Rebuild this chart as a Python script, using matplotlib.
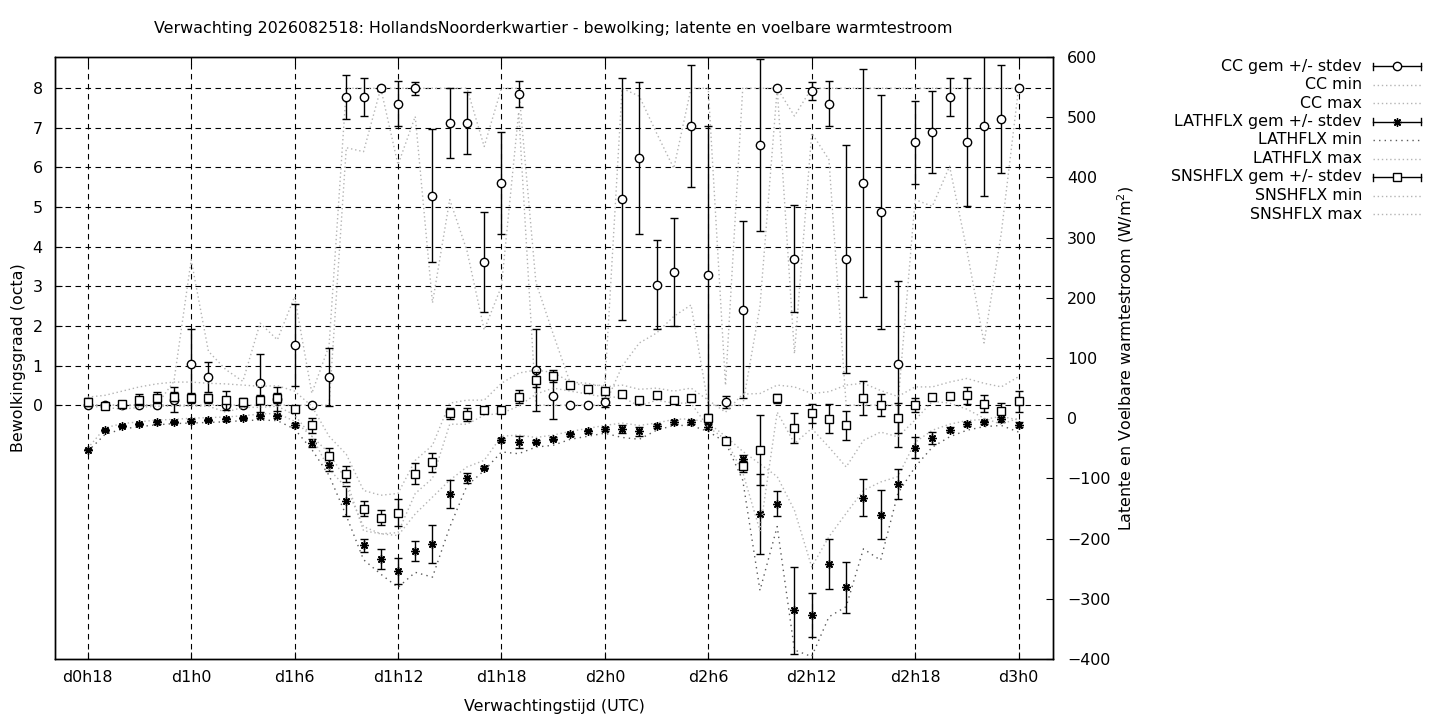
import numpy as np
from matplotlib import pyplot as plt
from matplotlib.lines import Line2D

# uren vanaf d0h18
hours = list(range(55))
tick_hours = [0, 6, 12, 18, 24, 30, 36, 42, 48, 54]
tick_labels = ['d0h18', 'd1h0', 'd1h6', 'd1h12', 'd1h18',
               'd2h0', 'd2h6', 'd2h12', 'd2h18', 'd3h0']

# bewolking (octa)
cc_mean = [0, 0, 0, 0, 0, 0.14, 1.04, 0.71, 0, 0, 0.56, 0.15, 1.52, 0,
           0.71, 7.78, 7.78, 8.0, 7.61, 8.0, 5.29, 7.12, 7.12, 3.61, 5.61, 7.86, 0.89, 0.24,
           0, 0, 0.07, 5.21, 6.24, 3.04, 3.36, 7.05, 3.29, 0.09, 2.41, 6.57, 8.0, 3.7,
           7.94, 7.61, 3.7, 5.61, 4.87, 1.04, 6.64, 6.9, 7.78, 6.64, 7.05, 7.23, 8.0]
cc_sd = [0, 0, 0, 0, 0, 0.32, 0.88, 0.39, 0, 0, 0.73, 0.31, 1.04, 0,
         0.72, 0.56, 0.47, 0.06, 0.57, 0.16, 1.68, 0.88, 0.79, 1.27, 1.28, 0.32, 1.04, 0.6,
         0, 0, 0.12, 3.05, 1.92, 1.12, 1.36, 1.54, 3.75, 0.15, 2.24, 2.18, 0, 1.35,
         0.23, 0.57, 2.88, 2.88, 2.96, 2.1, 1.05, 1.03, 0.48, 1.61, 1.77, 1.37, 0]
cc_min = [0, 0, 0, 0, 0, 0, 0, 0, 0, 0, 0, 0, 0, 0,
          0, 6.5, 6.4, 8.0, 6.07, 7.29, 2.58, 5.19, 3.9, 1.9, 3.0, 7.4, 0, 0,
          0, 0, 0, 0.98, 1.57, 1.82, 2.24, 2.53, 0, 0, 0, 2.5, 8.0, 1.3,
          6.87, 6.2, 0, 0, 0, 0, 5.19, 5.02, 6.03, 3.92, 1.57, 4.34, 8.0]
cc_max = [0, 0, 0, 0, 0, 0.6, 3.67, 1.36, 0.9, 0.6, 2.07, 1.65, 2.74, 0.3,
          1.5, 8, 8, 8, 8, 8, 8, 8, 8, 6.53, 8, 8, 3.1, 1.8,
          0.55, 0.5, 0.5, 8, 7.8, 6.87, 5.98, 8, 8, 0.5, 8, 8, 8, 7.3,
          8, 8, 8, 8, 8, 8, 8, 8, 8, 8, 8, 8, 8]

# latente warmtestroom (W/m2)
la_mean = [-52, -20, -13, -10, -7, -6, -4, -3, -2, 0, 3, 3, -11, -41,
           -77, -137, -211, -234, -254, -221, -209, -126, -99, -82, -36, -39, -39, -34,
           -27, -22, -18, -18, -22, -13, -6, -6, -14, -37, -67, -159, -142, -319,
           -327, -242, -281, -132, -160, -109, -49, -33, -19, -10, -7, -2, -11]
la_sd = [1, 2, 2, 2, 2, 2, 2, 2, 2, 2, 3, 3, 3, 7,
         10, 25, 11, 17, 22, 17, 32, 23, 8, 3, 3, 10, 3, 3,
         2, 2, 3, 7, 7, 3, 3, 3, 4, 4, 6, 67, 21, 72,
         37, 41, 42, 31, 41, 25, 17, 10, 4, 3, 3, 4, 4]
la_min = [-55, -27, -18, -14, -11, -9, -8, -7, -6, -4, -3, -4, -18, -52,
          -95, -162, -235, -259, -281, -256, -264, -181, -112, -87, -56, -59, -48, -45,
          -35, -30, -25, -32, -35, -20, -12, -12, -22, -40, -103, -286, -180, -385,
          -396, -330, -313, -217, -236, -125, -81, -48, -31, -20, -14, -12, -23]
la_max = [-50, -16, -9, -6, -3, -2, 0, 1, 2, 4, 7, 8, -5, -30,
          -58, -103, -187, -192, -195, -159, -131, -103, -81, -70, -30, -28, -32, -28,
          -22, -17, -12, -8, -12, -8, -2, -1, -8, -30, -55, -76, -97, -153,
          -247, -197, -158, -120, -106, -97, -40, -20, -10, -4, -2, 3, -3]

# voelbare warmtestroom (W/m2)
sn_mean = [27, 21, 23, 31, 34, 36, 34, 33, 30, 27, 31, 34, 16, -12,
           -63, -93, -150, -165, -157, -92, -73, 8, 6, 13, 14, 36, 64, 70,
           55, 48, 45, 41, 30, 38, 31, 34, 1, -38, -80, -53, 33, -16,
           8, -1, -12, 33, 22, 1, 22, 36, 37, 38, 24, 12, 28]
sn_sd = [6, 2, 6, 9, 9, 8, 8, 8, 16, 6, 8, 8, 3, 12,
         14, 13, 12, 12, 22, 18, 16, 9, 11, 3, 3, 11, 12, 10,
         3, 3, 5, 3, 6, 3, 3, 3, 6, 5, 9, 58, 8, 25,
         16, 24, 24, 28, 19, 25, 12, 3, 5, 14, 14, 14, 17]
sn_min = [20, 18, 15, 18, 20, 20, 20, 20, 10, 18, 18, 20, 5, -30,
          -85, -115, -180, -192, -190, -125, -100, -10, -10, 5, 8, 20, 40, 50,
          45, 40, 35, 35, 20, 30, 25, 25, -15, -35, -90, -187, 10, -42,
          -17, -48, -81, -37, -23, -31, -3, 28, 25, 15, 0, -10, 0]
sn_max = [35, 38, 45, 52, 57, 60, 60, 58, 57, 55, 53, 54, 45, 20,
          -30, -60, -120, -128, -125, -70, -45, 25, 30, 30, 58, 75, 80, 76,
          60, 58, 52, 55, 48, 50, 45, 50, 30, 10, 40, 41, 55, 52,
          41, 44, 55, 58, 46, 36, 52, 52, 60, 66, 58, 52, 69]

W, H = 1440, 720
light = '#b4b4b4'
dark = '#5a5a5a'
dots = (0, (1, 2))
fsize = 11.4

plt.rcParams['font.family'] = 'DejaVu Sans'
plt.rcParams['font.size'] = fsize

fig = plt.figure(figsize=(W / 100, H / 100), dpi=100)
ax = fig.add_axes([55 / W, 1 - 659 / H, 998 / W, 602 / H])
ax2 = ax.twinx()

# bewolking op linker as
ax.plot(hours, cc_min, color=light, linestyle=dots, lw=1)
ax.plot(hours, cc_max, color=light, linestyle=dots, lw=1)
ax.errorbar(hours, cc_mean, yerr=cc_sd, fmt='o', ms=6, mfc='white', mec='black',
            mew=1, ecolor='black', elinewidth=1, capsize=3, capthick=1)

# warmtestromen op rechter as
ast = (8, 2, 0)
ax2.plot(hours, la_min, color=dark, linestyle=(0, (1, 3)), lw=1)
ax2.plot(hours, la_max, color=light, linestyle=dots, lw=1)
ax2.errorbar(hours, la_mean, yerr=la_sd, fmt='none', ecolor='black',
             elinewidth=1, capsize=3, capthick=1)
ax2.plot(hours, la_mean, linestyle='none', marker=ast, ms=6, mec='black', mew=1)
ax2.plot(hours, sn_min, color=light, linestyle=dots, lw=1)
ax2.plot(hours, sn_max, color=light, linestyle=dots, lw=1)
ax2.errorbar(hours, sn_mean, yerr=sn_sd, fmt='s', ms=5.5, mfc='white', mec='black',
             mew=1, ecolor='black', elinewidth=1, capsize=3, capthick=1)

ax.set_xlim(-1.9, 56)
ax.set_ylim(-6.41, 8.79)
ax2.set_ylim(-400, 600)

ax.set_xticks(tick_hours)
ax.set_xticklabels(tick_labels)
ax.set_yticks(range(0, 9))
ax2.set_yticks(range(-400, 601, 100))

ax.grid(True, color='black', linestyle=(0, (5, 4)), linewidth=0.8)
ax.tick_params(axis='x', direction='in', length=5, top=True, width=0.8, pad=8)
ax.tick_params(axis='y', direction='in', length=5, width=0.8, pad=9)
ax2.tick_params(direction='in', length=5, width=0.8, pad=10)
for a in (ax, ax2):
    for s in a.spines.values():
        s.set_linewidth(1)

ax.set_xlabel('Verwachtingstijd (UTC)')
ax.xaxis.set_label_coords(0.5, -0.066)
ax.set_ylabel('Bewolkingsgraad (octa)')
ax.yaxis.set_label_coords(-0.029, 0.5)
ax2.set_ylabel('Latente en Voelbare warmtestroom (W/m$^2$)')
ax2.yaxis.set_label_coords(1.062, 0.5)

fig.text(553 / W, 1 - 29 / H,
         'Verwachting 2026082518: HollandsNoorderkwartier - bewolking; latente en voelbare warmtestroom',
         ha='center', va='center')

# legenda, handmatig zoals gnuplot
legend_labels = ['CC gem +/- stdev', 'CC min', 'CC max',
                 'LATHFLX gem +/- stdev', 'LATHFLX min', 'LATHFLX max',
                 'SNSHFLX gem +/- stdev', 'SNSHFLX min', 'SNSHFLX max']
legend_kind = ['o', 'l', 'l', 'a', 'd', 'l', 's', 'l', 'l']
row0, drow = 66, 18.5
x0, x1 = 1373, 1421
for i, (lab, kind) in enumerate(zip(legend_labels, legend_kind)):
    y = 1 - (row0 + i * drow) / H
    fig.text(1362 / W, y, lab, ha='right', va='center')
    xs = [x0 / W, x1 / W]
    if kind in ('o', 'a', 's'):
        fig.add_artist(Line2D(xs, [y, y], color='black', lw=1))
        for xc in xs:
            fig.add_artist(Line2D([xc, xc], [y - 3.5 / H, y + 3.5 / H], color='black', lw=1))
        mk = {'o': 'o', 'a': ast, 's': 's'}[kind]
        fig.add_artist(Line2D([(x0 + x1) / 2 / W], [y], marker=mk, ms=6 if kind != 's' else 5.5,
                              mfc='white', mec='black', mew=1, linestyle='none'))
    elif kind == 'd':
        fig.add_artist(Line2D(xs, [y, y], color=dark, lw=1, linestyle=(0, (1, 3))))
    else:
        fig.add_artist(Line2D(xs, [y, y], color=light, lw=1, linestyle=dots))

fig.savefig('out.png', dpi=100)
